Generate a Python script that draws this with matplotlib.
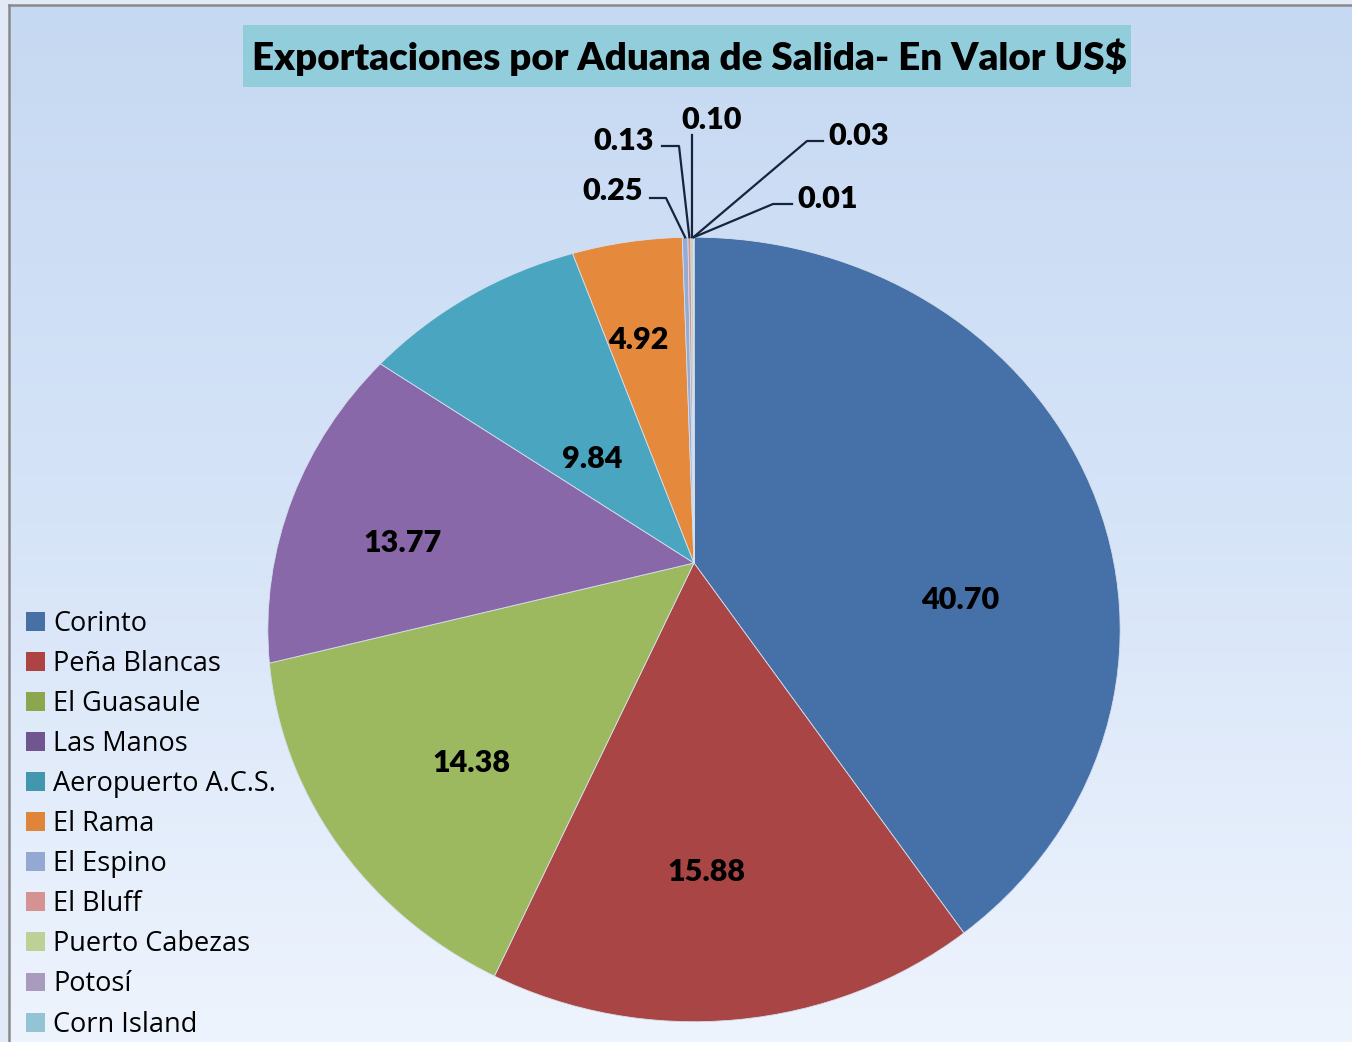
import numpy as np
import matplotlib.pyplot as plt
from matplotlib.transforms import Transform
from matplotlib.patches import Rectangle, Patch

aduanas = ["Corinto", "Peña Blancas", "El Guasaule", "Las Manos", "Aeropuerto A.C.S.",
           "El Rama", "El Espino", "El Bluff", "Puerto Cabezas", "Potosí", "Corn Island"]
valores = [40.70, 15.88, 14.38, 13.77, 9.84, 4.92, 0.25, 0.13, 0.10, 0.03, 0.01]
etiquetas = ["%.2f" % v for v in valores]
titulo = "Exportaciones por Aduana de Salida- En Valor US$"

colores = ['#4670a8', '#a94645', '#9cb95f', '#8868a8', '#4aa6c0', '#e58a3c',
           '#95abd3', '#d49392', '#bcd196', '#aa9cc0', '#93c6d6']
colores_leyenda = ['#4670a6', '#ad4342', '#8ba64c', '#71558f', '#4297ae', '#e0843a',
                   '#93a9d1', '#d49392', '#bdd197', '#a99bbd', '#92c4d4']

# label spots (pixel coords of the figure) for the big slices
pos_grandes = [(960, 600), (706, 872), (471, 763), (403, 543), (592, 459), (638, 340)]
# small slices: text spot, alignment, leader elbow points
pos_chicas = [(643, 191, 'right'), (654, 141, 'right'), (712, 120, 'center'),
              (828, 136, 'left'), (797, 199, 'left')]
codos = [[(650, 198), (666, 198)], [(662, 146), (679, 146)], [(692, 135)],
         [(823, 141), (807, 141)], [(792, 204), (773, 204)]]

# the pie in the picture is a bit tilted, like seen in perspective
CX, CY = 694, 563
AX, BY, K = 420, 381, 0.1694


class Tilt(Transform):
    input_dims = 2
    output_dims = 2

    def transform_non_affine(self, values):
        v = np.asarray(values, float)
        d = 1 + K * v[:, 1]
        return np.column_stack([CX + AX * v[:, 0] / d, CY - BY * v[:, 1] / d])


W, H = 1352, 1042
fig = plt.figure(figsize=(W / 100, H / 100), dpi=100)
fig.patch.set_facecolor('#e1eaf6')
ax = fig.add_axes([0, 0, 1, 1])

# background gradient inside the chart frame
grad = np.linspace(0, 1, 256)[:, None]
cmap = plt.matplotlib.colors.LinearSegmentedColormap.from_list('bg', ['#c6d9f2', '#d6e4f8', '#eef4fd'])
ax.imshow(grad, cmap=cmap, extent=(9, W, H, 5), aspect='auto', zorder=0)
ax.plot([9, 9], [5, H], color='#8a8a8a', lw=1.8, zorder=1)
ax.plot([9, W], [5, 5], color='#8a8a8a', lw=1.8, zorder=1)

wedges, _ = ax.pie(valores, colors=colores, startangle=90, counterclock=False,
                   wedgeprops=dict(linewidth=0.6, edgecolor='#d5dfee'))
tilt = Tilt() + ax.transData
for w in wedges:
    w.set_transform(tilt)
    w.set_zorder(2)

ax.set_xlim(0, W)
ax.set_ylim(H, 0)
ax.set_aspect('auto')
ax.axis('off')

fuente = 'Lato'
for (x, y), t in zip(pos_grandes, etiquetas[:6]):
    ax.text(x, y, t, ha='center', va='center', fontsize=22, fontweight='heavy',
            family=fuente, zorder=4)

for w, (x, y, al), t, cod in zip(wedges[6:], pos_chicas, etiquetas[6:], codos):
    ang = np.deg2rad((w.theta1 + w.theta2) / 2)
    rim = Tilt().transform(np.array([[np.cos(ang), np.sin(ang)]]))[0]
    pts = cod + [tuple(rim)]
    ax.plot([p[0] for p in pts], [p[1] for p in pts], color='#17243d', lw=1.6, zorder=3)
    ax.text(x, y, t, ha=al, va='center', fontsize=22, fontweight='heavy',
            family=fuente, zorder=4)

# title box
ax.add_patch(Rectangle((243, 25), 888, 62, facecolor='#92cddc', edgecolor='none', zorder=3))
ax.text(689, 57, titulo, ha='center', va='center', fontsize=27.7, fontweight='heavy',
        family=fuente, zorder=4)

handles = [Patch(facecolor=c, edgecolor='none') for c in colores_leyenda]
fig.legend(handles, aduanas, loc='upper left', bbox_to_anchor=(26 / W, 1 - 610 / H),
           frameon=False, prop=dict(family='Open Sans', size=19.5), handlelength=0.7,
           handleheight=0.7, handletextpad=0.3, labelspacing=0.445,
           borderpad=0, borderaxespad=0)

fig.savefig('out.png', dpi=100, facecolor=fig.get_facecolor())
